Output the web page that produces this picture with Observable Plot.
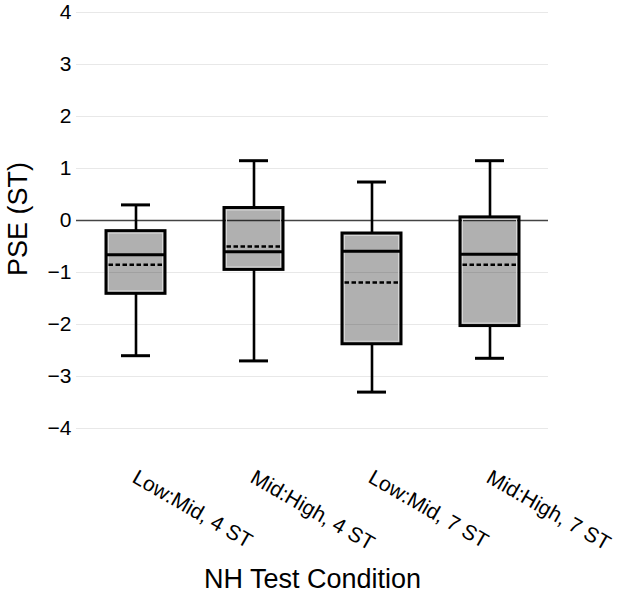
<!DOCTYPE html>
<html>
<head>
<meta charset="utf-8">
<script src="https://cdn.jsdelivr.net/npm/d3@7"></script>
<script src="https://cdn.jsdelivr.net/npm/@observablehq/plot@0.6"></script>
<style>
  html, body { margin: 0; padding: 0; background: #fff; }
</style>
</head>
<body>
<div id="chart"></div>
<script>
const conditions = ["Low:Mid, 4 ST", "Mid:High, 4 ST", "Low:Mid, 7 ST", "Mid:High, 7 ST"];
const whiskerLow = [-2.60, -2.70, -3.30, -2.65];
const q1 = [-1.41, -0.95, -2.38, -2.03];
const medians = [-0.66, -0.60, -0.59, -0.65];
const means = [-0.85, -0.50, -1.19, -0.85];
const q3 = [-0.205, 0.24, -0.25, 0.06];
const whiskerHigh = [0.30, 1.15, 0.74, 1.15];
const yTicks = [-4, -3, -2, -1, 0, 1, 2, 3, 4];

const rows = conditions.map((c, i) => ({
  cond: c, lo: whiskerLow[i], q1: q1[i], med: medians[i], mean: means[i], q3: q3[i], hi: whiskerHigh[i]
}));

const chart = Plot.plot({
  width: 624,
  height: 594,
  marginLeft: 76,
  marginRight: 76,
  marginTop: 12,
  marginBottom: 166,
  style: { fontFamily: "'Liberation Sans', Arial, sans-serif", fontSize: "21px", color: "#000", background: "#fff" },
  x: { domain: conditions, paddingInner: 0.5, paddingOuter: 0.25, axis: null },
  y: { domain: [-4, 4] },
  marks: [
    Plot.ruleY(yTicks.filter(t => t !== 0), { stroke: "#e8e8e8", strokeWidth: 1 }),
    Plot.ruleY([0], { stroke: "#444", strokeWidth: 1.3 }),
    Plot.ruleX(rows, { x: "cond", y1: "lo", y2: "q1", stroke: "#000", strokeWidth: 2.6 }),
    Plot.ruleX(rows, { x: "cond", y1: "q3", y2: "hi", stroke: "#000", strokeWidth: 2.6 }),
    Plot.tickY(rows, { x: "cond", y: "lo", stroke: "#000", strokeWidth: 3, inset: 15 }),
    Plot.tickY(rows, { x: "cond", y: "hi", stroke: "#000", strokeWidth: 3, inset: 15 }),
    Plot.barY(rows, { x: "cond", y1: "q1", y2: "q3", fill: "#000", fillOpacity: 0.31, stroke: "#000", strokeWidth: 3 }),
    Plot.barY(rows, { x: "cond", y1: "q1", y2: "q3", fill: "none", stroke: "#d6d6d6", strokeWidth: 1, inset: 2.5 }),
    Plot.tickY(rows, { x: "cond", y: "med", stroke: "#000", strokeWidth: 3 }),
    Plot.tickY(rows, { x: "cond", y: "mean", stroke: "#000", strokeWidth: 2.5, strokeDasharray: "4.5,2.5", inset: 2.5 }),
    Plot.axisY({ ticks: yTicks, tickSize: 0, tickPadding: 5, label: null, fontSize: 21, fill: "#000" }),
    Plot.text(conditions, { x: d => d, frameAnchor: "bottom", rotate: 30, textAnchor: "start", lineAnchor: "bottom", dx: -5, dy: 53, fontSize: 21, fill: "#000" }),
    Plot.text(["NH Test Condition"], { frameAnchor: "bottom", textAnchor: "middle", lineAnchor: "bottom", dy: 159, fontSize: 27, fill: "#000" }),
    Plot.text(["PSE (ST)"], { frameAnchor: "left", textAnchor: "middle", lineAnchor: "middle", rotate: -90, dx: -58.5, dy: -1.5, fontSize: 27, fill: "#000" })
  ]
});
document.getElementById("chart").appendChild(chart);
</script>
</body>
</html>
